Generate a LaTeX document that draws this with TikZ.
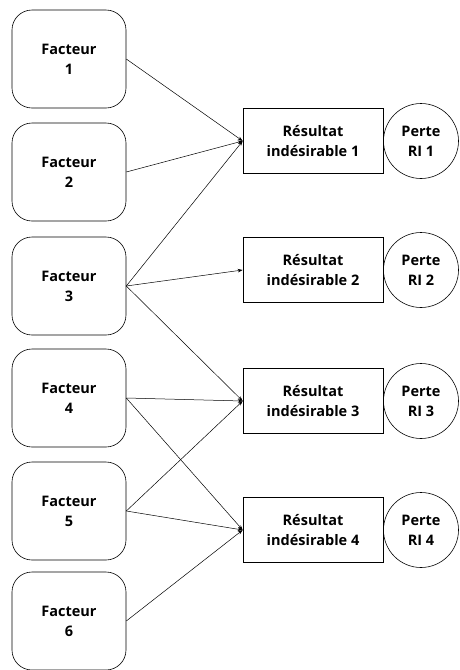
\documentclass[tikz,border=0pt]{standalone}
\usepackage{fontspec}
\setmainfont{Open Sans}
\usetikzlibrary{arrows.meta}

\tikzset{
    facteurbox/.style={draw, line width=0.6pt, rounded corners=20pt, minimum width=114pt,
        minimum height=98pt, align=center, font=\bfseries\fontsize{14.5}{20}\selectfont},
    resbox/.style={draw, line width=0.6pt, minimum width=140pt, minimum height=65pt,
        align=center, font=\bfseries\fontsize{14.5}{20}\selectfont},
    pertecirc/.style={draw, circle, line width=0.6pt, minimum size=75pt, inner sep=0pt,
        align=center, font=\bfseries\fontsize{14.5}{20}\selectfont},
    lien/.style={line width=0.5pt, -{Stealth[length=5pt,width=3.5pt]}}
}

\newcommand\facteur[2]{
    \node[facteurbox] (f#1) at (69,#2) {Facteur\\#1};
}
\newcommand\resultat[2]{
    \node[resbox] (r#1) at (313,#2) {Résultat\\indésirable #1};
    \node[pertecirc] (p#1) at (421,#2) {Perte\\RI #1};
}

\begin{document}
\begin{tikzpicture}[x=1pt, y=-1pt]
    \useasboundingbox (0,0) rectangle (459,670);

    \facteur{1}{59}
    \facteur{2}{172}
    \facteur{3}{286}
    \facteur{4}{398}
    \facteur{5}{511}
    \facteur{6}{621}

    \resultat{1}{141}
    \resultat{2}{270}
    \resultat{3}{401}
    \resultat{4}{530}

    \draw[lien] (f1.east) -- (r1.west);
    \draw[lien] (f2.east) -- (r1.west);
    \draw[lien] (f3.east) -- (r1.west);
    \draw[lien] (f3.east) -- (r2.west);
    \draw[lien] (f3.east) -- (r3.west);
    \draw[lien] (f4.east) -- (r3.west);
    \draw[lien] (f4.east) -- (r4.west);
    \draw[lien] (f5.east) -- (r3.west);
    \draw[lien] (f5.east) -- (r4.west);
    \draw[lien] (f6.east) -- (r4.west);

\end{tikzpicture}
\end{document}
